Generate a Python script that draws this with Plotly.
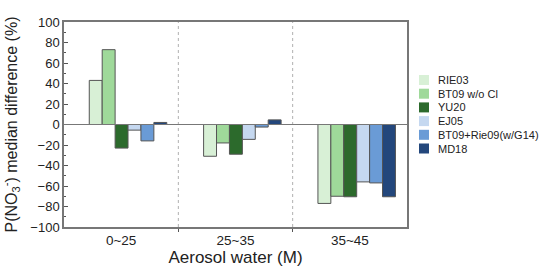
import plotly.graph_objects as go

categories = ["0~25", "25~35", "35~45"]
series_names = ["RIE03", "BT09 w/o Cl", "YU20", "EJ05", "BT09+Rie09(w/G14)", "MD18"]
values = {
    "RIE03": [43, -31, -77],
    "BT09 w/o Cl": [73, -18, -70],
    "YU20": [-23, -29, -70.5],
    "EJ05": [-5.5, -14.5, -56],
    "BT09+Rie09(w/G14)": [-16, -2.5, -57],
    "MD18": [2, 4.5, -70.5],
}
colors = ["#d8f0d6", "#9fd99a", "#2c6a2c", "#c5d8f0", "#6a9bd6", "#23477c"]
y_ticks = [-100, -80, -60, -40, -20, 0, 20, 40, 60, 80, 100]

bar_w = 0.113
start = -0.279
xpos = list(range(len(categories)))

FW, FH = 543, 270
L, R, T, B = 64, 407, 22, 227
W, H = R - L, B - T

fig = go.Figure()
for i, name in enumerate(series_names):
    fig.add_trace(go.Bar(
        x=xpos, y=values[name], name=name,
        width=bar_w, offset=start + i * bar_w,
        marker=dict(color=colors[i], line=dict(color="#555555", width=1)),
        showlegend=False,
    ))

# category separators
for b in [0.5, 1.5]:
    fig.add_shape(type="line", xref="x", yref="paper", x0=b, x1=b, y0=0, y1=1,
                  line=dict(color="#b0b0b0", width=1, dash="3px,3px"), layer="below")
# zero line
fig.add_shape(type="line", xref="paper", yref="y", x0=0, x1=1, y0=0, y1=0,
              line=dict(color="#777777", width=1.2), layer="above")

# manual legend (page coords converted to paper coords)
lx, ly0, step, sq = 419, 80, 13.7, 10
for i, name in enumerate(series_names):
    cy = ly0 + i * step
    fig.add_shape(type="rect", xref="paper", yref="paper",
                  x0=(lx - L) / W, x1=(lx + sq - L) / W,
                  y0=(B - (cy + sq / 2)) / H, y1=(B - (cy - sq / 2)) / H,
                  fillcolor=colors[i], line=dict(width=0))
    fig.add_annotation(xref="paper", yref="paper", x=(lx + 17 - L) / W, y=(B - cy) / H,
                       text=name, showarrow=False, xanchor="left", yanchor="middle",
                       font=dict(size=11, color="#222222"))

fig.update_layout(
    width=FW, height=FH,
    margin=dict(l=L, r=FW - R, t=T, b=FH - B),
    paper_bgcolor="white", plot_bgcolor="white",
    font=dict(family="Liberation Sans, Arial, sans-serif", color="#222222"),
    barmode="overlay",
    xaxis=dict(
        range=[-0.5, 2.5], tickmode="array", tickvals=xpos, ticktext=categories,
        ticks="", tickfont=dict(size=13.5), showgrid=False, zeroline=False,
        showline=True, linecolor="#777777", linewidth=1.5, mirror=True,
        automargin=False,
        minor=dict(tickmode="array", tickvals=[0.5, 1.5], ticks="outside", ticklen=3,
                   tickcolor="#555555", showgrid=False),
        title=dict(text="Aerosol water (M)", font=dict(size=17), standoff=2),
    ),
    yaxis=dict(
        range=[-100, 100], tickmode="array", tickvals=y_ticks,
        ticks="inside", ticklen=4, tickcolor="#555555", tickfont=dict(size=13),
        minor=dict(dtick=10, ticks="inside", ticklen=2, tickcolor="#555555", showgrid=False),
        showgrid=False, zeroline=False, automargin=False,
        showline=True, linecolor="#777777", linewidth=1.5, mirror=True,
        title=dict(text="P(NO<sub>3</sub><sup>-</sup>) median difference (%)",
                   font=dict(size=16), standoff=10),
    ),
)

fig.write_html("out.html", config={"displayModeBar": False},
               post_script="document.body.style.margin='0';")
